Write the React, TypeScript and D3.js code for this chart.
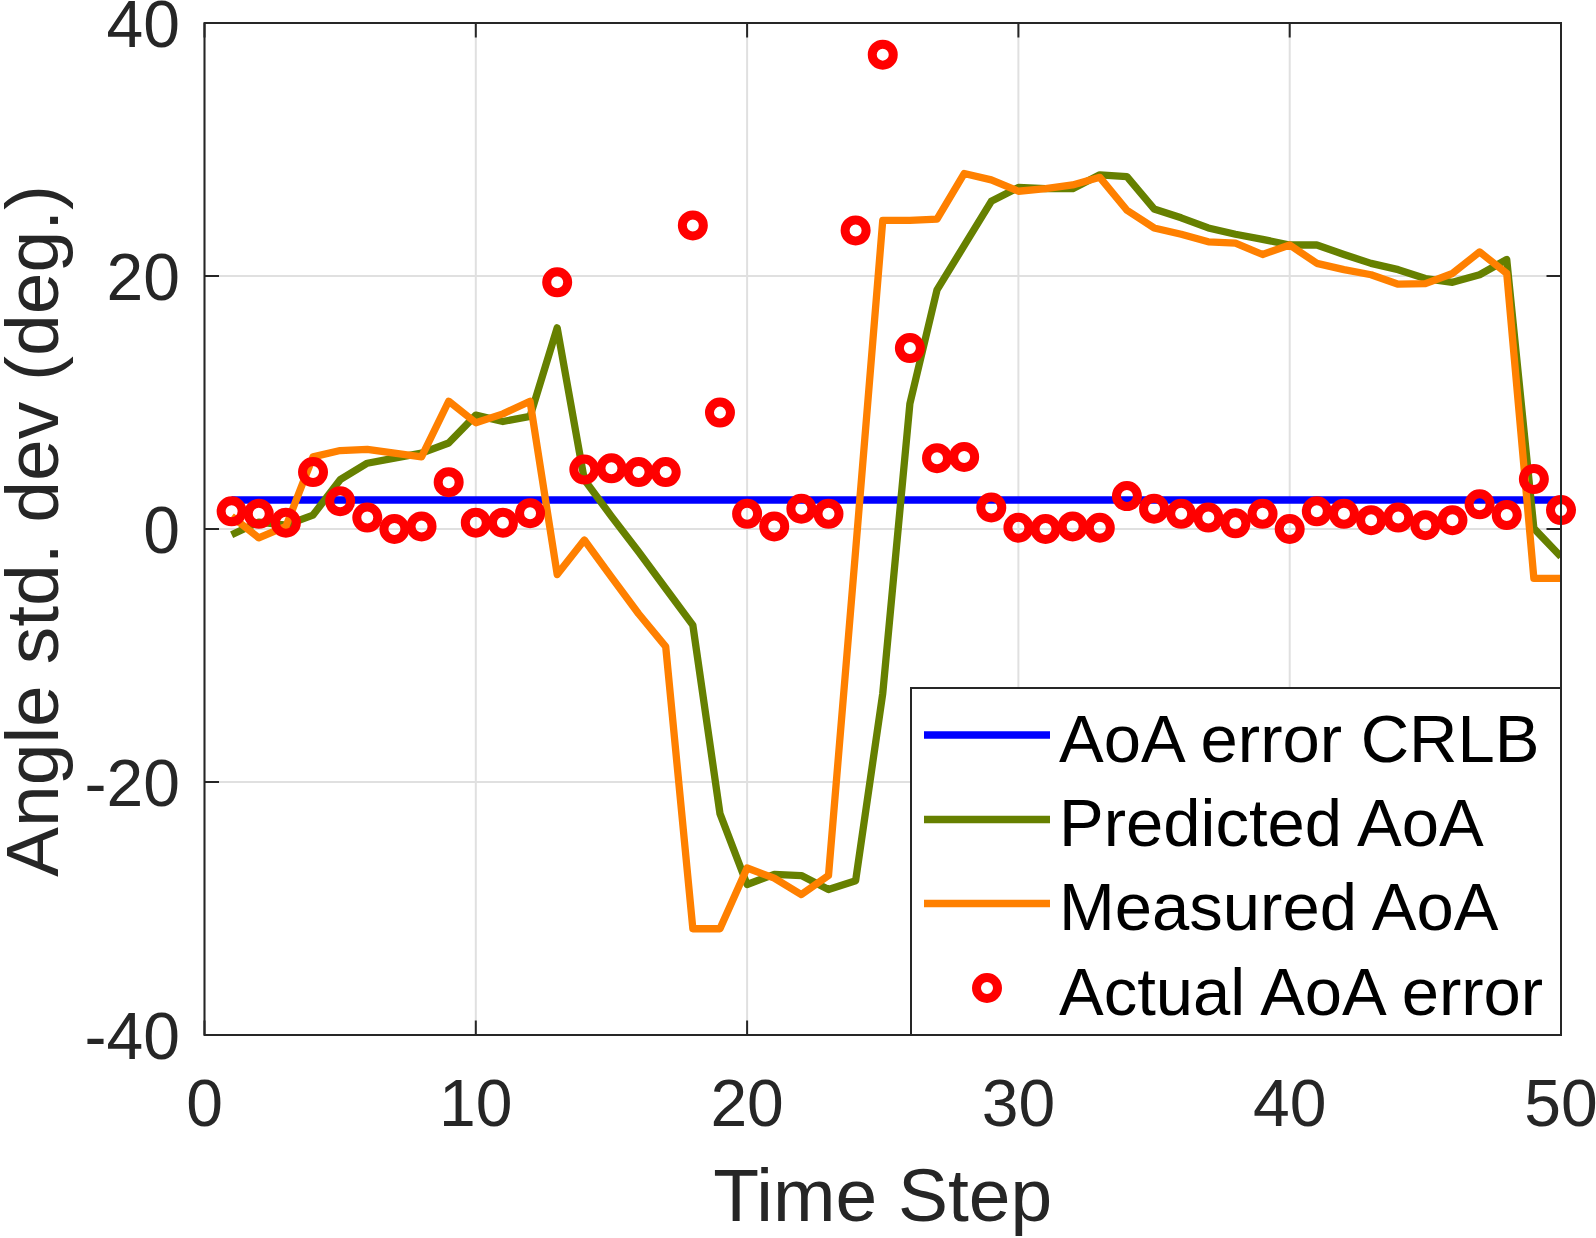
import React from "react";
import * as d3 from "d3";

const timeSteps = d3.range(1, 51);

const crlb = 2.3;

const predicted = [
  -0.45, 0.55, 0.3, 1.1, 3.9, 5.2, 5.6, 6.0, 6.8, 9.0,
  8.5, 8.9, 15.9, 3.9, 1.0, -1.8, -4.7, -7.6, -22.5, -28.1,
  -27.3, -27.4, -28.5, -27.8, -13.0, 9.9, 18.9, 22.4, 25.9, 27.0,
  26.9, 26.9, 28.0, 27.85, 25.3, 24.6, 23.8, 23.3, 22.9, 22.45,
  22.45, 21.7, 21.0, 20.5, 19.8, 19.5, 20.1, 21.3, 0.05, -2.2,
];

const measured = [
  1.0, -0.7, 0.2, 5.7, 6.2, 6.3, 6.0, 5.7, 10.1, 8.4,
  9.1, 10.1, -3.6, -0.87, -3.8, -6.7, -9.3, -31.6, -31.6, -26.8,
  -27.6, -28.9, -27.4, -1.7, 24.4, 24.4, 24.5, 28.1, 27.6, 26.7,
  26.9, 27.2, 27.8, 25.2, 23.8, 23.3, 22.7, 22.6, 21.7, 22.45,
  21.0, 20.5, 20.1, 19.35, 19.4, 20.2, 21.9, 20.2, -3.9, -3.9,
];

const actual = [
  1.4, 1.2, 0.5, 4.5, 2.2, 0.9, 0.0, 0.2, 3.7, 0.5,
  0.5, 1.25, 19.5, 4.7, 4.8, 4.5, 4.5, 24.0, 9.2, 1.2,
  0.2, 1.6, 1.2, 23.6, 37.5, 14.3, 5.6, 5.7, 1.7, 0.1,
  0.0, 0.2, 0.1, 2.6, 1.6, 1.2, 0.9, 0.45, 1.2, 0.0,
  1.4, 1.2, 0.7, 0.9, 0.3, 0.7, 1.95, 1.1, 3.95, 1.5,
];

const xTicks = [0, 10, 20, 30, 40, 50];
const yTicks = [-40, -20, 0, 20, 40];
const legendLabels = ["AoA error CRLB", "Predicted AoA", "Measured AoA", "Actual AoA error"];

const W = 1596;
const H = 1238;
const L = 204.5, R = 1561, T = 23, B = 1035;
const FONT = "'Liberation Sans', Arial, Helvetica, sans-serif";
const AX = "#262626";
const BLUE = "#0000ff";
const GREEN = "#668000";
const ORANGE = "#ff8000";
const RED = "#ff0000";

export default function App() {
  const x = d3.scaleLinear().domain([0, 50]).range([L, R]);
  const y = d3.scaleLinear().domain([-40, 40]).range([B, T]);

  const line = d3
    .line<number>()
    .x((_, i) => x(timeSteps[i]))
    .y((d) => y(d));

  const crlbSeries = timeSteps.map(() => crlb);
  const tickLen = 14.5;

  const legY = [735, 819.5, 903.5, 988];
  const legColors = [BLUE, GREEN, ORANGE];

  return (
    <svg
      width={W}
      height={H}
      style={{ position: "absolute", left: 0, top: 0, background: "#fff" }}
      fontFamily={FONT}
    >
      <rect x={0} y={0} width={W} height={H} fill="#fff" />
      <defs>
        <clipPath id="plotclip">
          <rect x={L} y={T} width={R - L} height={B - T} />
        </clipPath>
      </defs>
      {/* grid */}
      {xTicks.map((t) => (
        <line key={"gx" + t} x1={x(t)} x2={x(t)} y1={T} y2={B} stroke="#e0e0e0" strokeWidth={2} />
      ))}
      {yTicks.map((t) => (
        <line key={"gy" + t} x1={L} x2={R} y1={y(t)} y2={y(t)} stroke="#e0e0e0" strokeWidth={2} />
      ))}

      <g clipPath="url(#plotclip)">
        <path d={line(crlbSeries) || ""} fill="none" stroke={BLUE} strokeWidth={7.5} />
        <path d={line(predicted) || ""} fill="none" stroke={GREEN} strokeWidth={7.3} strokeLinejoin="round" />
        <path d={line(measured) || ""} fill="none" stroke={ORANGE} strokeWidth={7.3} strokeLinejoin="round" />
      </g>
      {actual.map((v, i) => (
        <circle
          key={"c" + i}
          cx={x(timeSteps[i])}
          cy={y(v)}
          r={10.5}
          fill="none"
          stroke={RED}
          strokeWidth={9}
        />
      ))}

      {/* axes box */}
      <rect x={L} y={T} width={R - L} height={B - T} fill="none" stroke={AX} strokeWidth={2} />
      {xTicks.map((t) => (
        <g key={"tx" + t}>
          <line x1={x(t)} x2={x(t)} y1={B} y2={B - tickLen} stroke={AX} strokeWidth={2} />
          <line x1={x(t)} x2={x(t)} y1={T} y2={T + tickLen} stroke={AX} strokeWidth={2} />
          <text x={x(t)} y={1126} textAnchor="middle" fontSize={66} fill={AX}>
            {t}
          </text>
        </g>
      ))}
      {yTicks.map((t) => (
        <g key={"ty" + t}>
          <line x1={L} x2={L + tickLen} y1={y(t)} y2={y(t)} stroke={AX} strokeWidth={2} />
          <line x1={R} x2={R - tickLen} y1={y(t)} y2={y(t)} stroke={AX} strokeWidth={2} />
          <text x={180} y={y(t) + 24} textAnchor="end" fontSize={66} fill={AX}>
            {t}
          </text>
        </g>
      ))}

      <text x={(L + R) / 2} y={1221} textAnchor="middle" fontSize={75} fill={AX}>
        Time Step
      </text>
      <text
        transform={`translate(58, ${(T + B) / 2 + 2}) rotate(-90)`}
        textAnchor="middle"
        fontSize={75}
        fill={AX}
      >
        Angle std. dev (deg.)
      </text>

      {/* legend */}
      <rect x={911} y={688} width={R - 911} height={B - 688} fill="#fff" stroke={AX} strokeWidth={2} />
      {legendLabels.map((lab, i) => (
        <g key={"lg" + i}>
          {i < 3 ? (
            <line x1={924} x2={1050} y1={legY[i]} y2={legY[i]} stroke={legColors[i]} strokeWidth={7.5} />
          ) : (
            <circle cx={987} cy={legY[i]} r={10.5} fill="none" stroke={RED} strokeWidth={9} />
          )}
          <text x={1059} y={legY[i] + 26.5} fontSize={67} fill="#000">
            {lab}
          </text>
        </g>
      ))}
    </svg>
  );
}
